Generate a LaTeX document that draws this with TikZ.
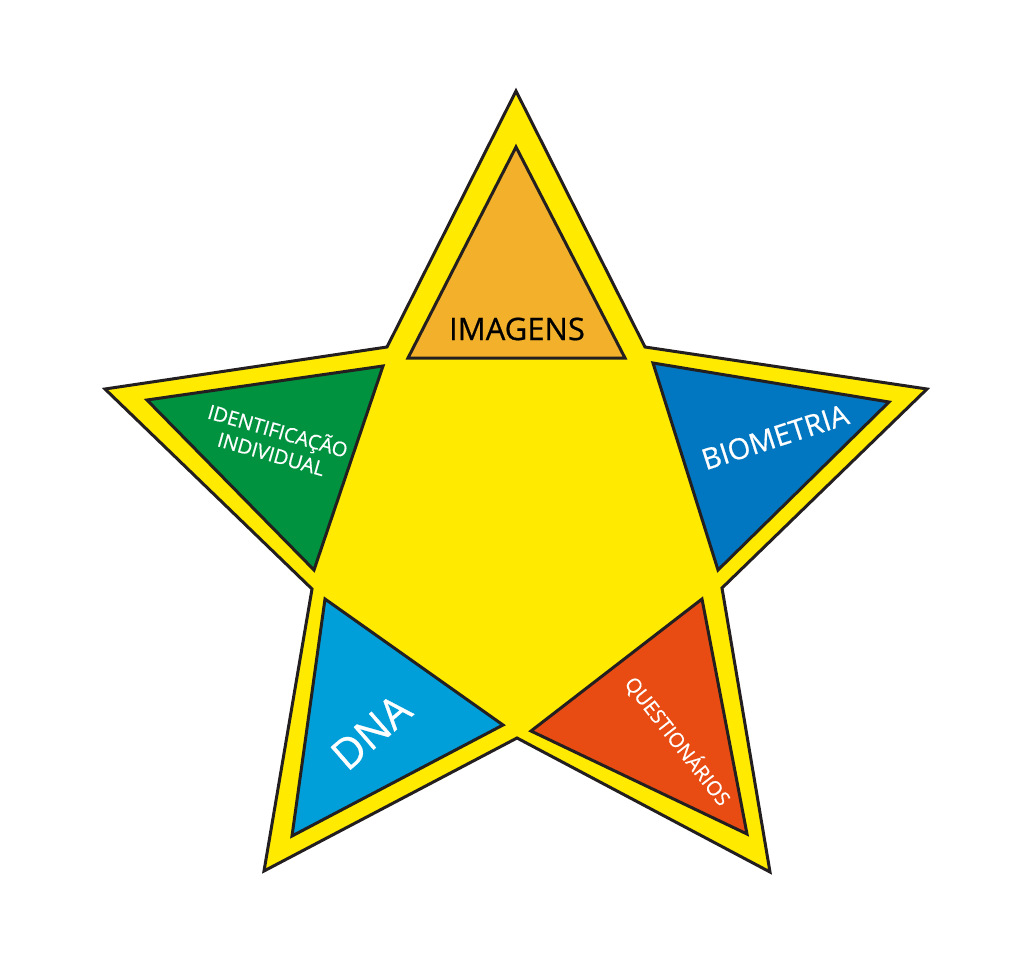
\documentclass[tikz,border=0pt]{standalone}
\usepackage{fontspec}
\setmainfont[FakeBold=0.6]{Open Sans}
\definecolor{staryellow}{HTML}{FFEA00}
\definecolor{topor}{HTML}{F2B02B}
\definecolor{grn}{HTML}{00923F}
\definecolor{blu}{HTML}{0077C0}
\definecolor{lblu}{HTML}{009FDA}
\definecolor{redor}{HTML}{E84C12}
\definecolor{edge}{HTML}{231F20}
\tikzset{
  outline/.style={draw=edge, line width=3pt, line join=miter},
  lbl/.style={inner sep=0pt, align=center}
}
\begin{document}
\begin{tikzpicture}[x=1pt,y=-1pt]
\useasboundingbox (0,0) rectangle (1033,963);
% star
\path[outline, fill=staryellow]
  (516,91) -- (645,347) -- (927,389) -- (722,588) -- (770,872)
  -- (517,738) -- (264,871) -- (312,589) -- (105,389) -- (387,347) -- cycle;
% inner triangles
\path[outline, fill=topor] (516,147) -- (625,358) -- (408,358) -- cycle;
\path[outline, fill=grn] (147,400) -- (383,366) -- (314,570) -- cycle;
\path[outline, fill=blu] (653,363) -- (889,402) -- (718,570) -- cycle;
\path[outline, fill=lblu] (325,599) -- (503,725) -- (292,836) -- cycle;
\path[outline, fill=redor] (702,599) -- (531,731) -- (747,834) -- cycle;
% labels
\node[lbl, text=black, font=\fontsize{31}{31}\selectfont] (imagens) at (517,329) {IMAGENS};
\node[lbl, text=white, rotate=-16, font=\fontsize{20}{24}\selectfont] (ident) at (275,441) {IDENTIFICAÇÃO\\INDIVIDUAL};
\node[lbl, text=white, rotate=18, font=\fontsize{29}{29}\selectfont] (bio) at (775,437) {BIOMETRIA};
\node[lbl, text=white, rotate=41, font=\fontsize{42}{42}\selectfont] (dna) at (371,732) {DNA};
\node[lbl, text=white, rotate=-52, font=\fontsize{20}{20}\selectfont] (quest) at (678,741) {QUESTIONÁRIOS};
\end{tikzpicture}
\end{document}
